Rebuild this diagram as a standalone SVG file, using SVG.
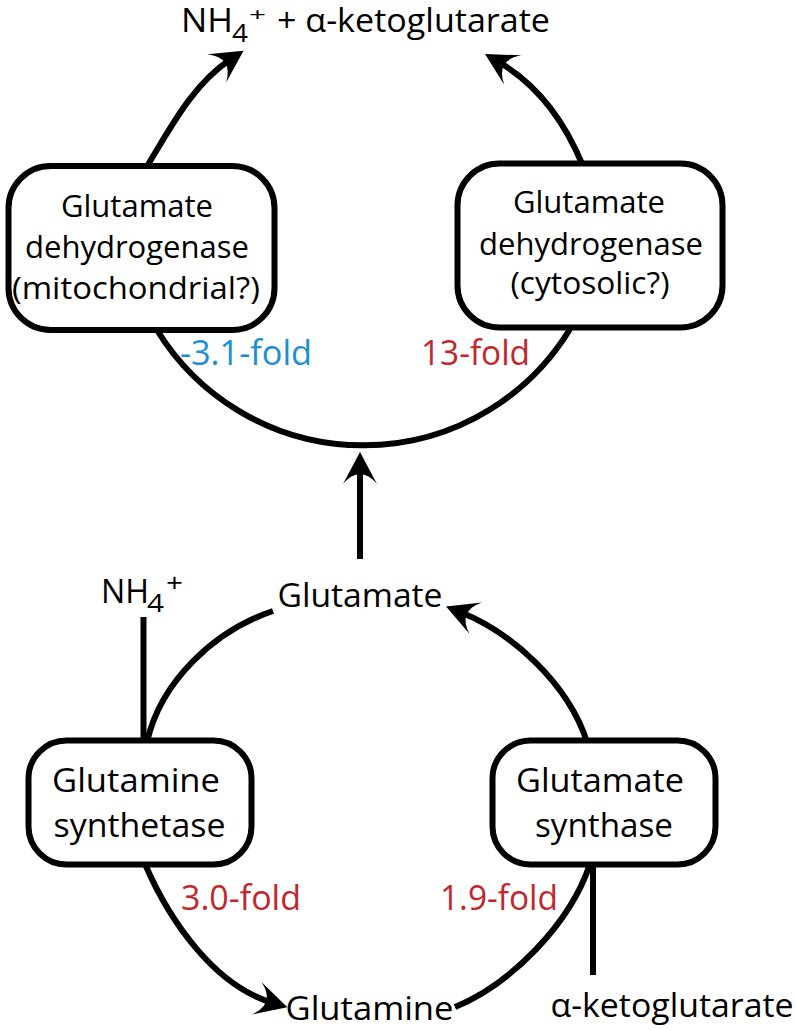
<svg xmlns="http://www.w3.org/2000/svg" width="797" height="1030" viewBox="0 0 797 1030">
<style>
text{font-family:'Open Sans','Liberation Sans',Arial,sans-serif;fill:#000;}
.bt{font-size:31px;text-anchor:middle;}
.bb{font-size:32px;text-anchor:middle;}
.lb{font-size:32px;}
.sm{font-size:26px;}
.fold{font-size:35px;}
.red{fill:#c1272d;}
.blue{fill:#1b8fd0;}
.box{fill:#fff;stroke:#000;stroke-width:6;}
.con{fill:none;stroke:#000;stroke-width:6;}
.arr{marker-end:url(#ah);}
</style>
<defs>
<marker id="ah" markerUnits="userSpaceOnUse" markerWidth="40" markerHeight="40" refX="17" refY="17" orient="auto" overflow="visible">
<path d="M32,17 L0,0 Q20,17 0,34 Z" fill="#000"/>
</marker>
</defs>
<g id="connectors">
<path class="con arr" d="M146,168 C171,127 193,84 231,59"/>
<path class="con arr" d="M583,166 C565,122 537,84 498,61.5"/>
<path class="con" d="M157,330 A242 242 0 0 0 570,329"/>
<path class="con arr" d="M360,559 L360,467"/>
<path class="con" d="M143.5,617 L143.5,742"/>
<path class="con" d="M147,742 C161,680 216,630 273,611"/>
<path class="con arr" d="M587,742 C568,683 511,632 460,612"/>
<path class="con arr" d="M145,864 C170,922 215,986 273,1003"/>
<path class="con" d="M590,864 C570,924 511,984 455,1007"/>
<path class="con" d="M593,864 L593,975"/>
</g>
<g id="title">
<text class="lb" x="181" y="32" textLength="52" lengthAdjust="spacingAndGlyphs">NH</text>
<text class="sm" x="232" y="42" textLength="16" lengthAdjust="spacingAndGlyphs">4</text>
<text x="249" y="20.5" font-size="19" textLength="17" lengthAdjust="spacingAndGlyphs">+</text>
<text class="lb" x="277" y="32" textLength="273" lengthAdjust="spacingAndGlyphs">+ α-ketoglutarate</text>
</g>
<g id="gdh-mito">
<rect class="box" x="8.5" y="166" width="266" height="164" rx="42"/>
<text class="bt" x="137" y="217" textLength="152" lengthAdjust="spacingAndGlyphs">Glutamate</text>
<text class="bt" x="137" y="258" textLength="224" lengthAdjust="spacingAndGlyphs">dehydrogenase</text>
<text class="bt" x="136" y="299" textLength="248" lengthAdjust="spacingAndGlyphs">(mitochondrial?)</text>
</g>
<g id="gdh-cyto">
<rect class="box" x="457.5" y="163.5" width="265" height="164" rx="42"/>
<text class="bt" x="589" y="213" textLength="152" lengthAdjust="spacingAndGlyphs">Glutamate</text>
<text class="bt" x="591" y="255" textLength="224" lengthAdjust="spacingAndGlyphs">dehydrogenase</text>
<text class="bt" x="590" y="294" textLength="159" lengthAdjust="spacingAndGlyphs">(cytosolic?)</text>
</g>
<g id="fold-labels">
<text class="fold blue" x="180" y="365" textLength="132" lengthAdjust="spacingAndGlyphs">-3.1-fold</text>
<text class="fold red" x="421" y="365" textLength="109" lengthAdjust="spacingAndGlyphs">13-fold</text>
<text class="fold red" x="181" y="910" textLength="120" lengthAdjust="spacingAndGlyphs">3.0-fold</text>
<text class="fold red" x="440" y="910" textLength="118" lengthAdjust="spacingAndGlyphs">1.9-fold</text>
</g>
<g id="nh4">
<text class="lb" x="101" y="603" textLength="48" lengthAdjust="spacingAndGlyphs">NH</text>
<text class="sm" x="147" y="612" textLength="17" lengthAdjust="spacingAndGlyphs">4</text>
<text class="sm" x="166" y="592" textLength="17" lengthAdjust="spacingAndGlyphs">+</text>
</g>
<g id="glutamate">
<text class="lb" x="360" y="607" text-anchor="middle" textLength="165" lengthAdjust="spacingAndGlyphs">Glutamate</text>
</g>
<g id="gs">
<rect class="box" x="28.5" y="740.5" width="223" height="124" rx="38"/>
<text class="bb" x="136" y="792" textLength="168" lengthAdjust="spacingAndGlyphs">Glutamine</text>
<text class="bb" x="139.5" y="837" textLength="172" lengthAdjust="spacingAndGlyphs">synthetase</text>
</g>
<g id="gogat">
<rect class="box" x="492.5" y="740.5" width="223" height="124" rx="38"/>
<text class="bb" x="600" y="792" textLength="168" lengthAdjust="spacingAndGlyphs">Glutamate</text>
<text class="bb" x="604" y="837" textLength="138" lengthAdjust="spacingAndGlyphs">synthase</text>
</g>
<g id="glutamine">
<text class="bb" x="369.5" y="1020" textLength="168" lengthAdjust="spacingAndGlyphs">Glutamine</text>
</g>
<g id="akg">
<text class="lb" x="672" y="1017" text-anchor="middle" textLength="243" lengthAdjust="spacingAndGlyphs">α-ketoglutarate</text>
</g>
</svg>
